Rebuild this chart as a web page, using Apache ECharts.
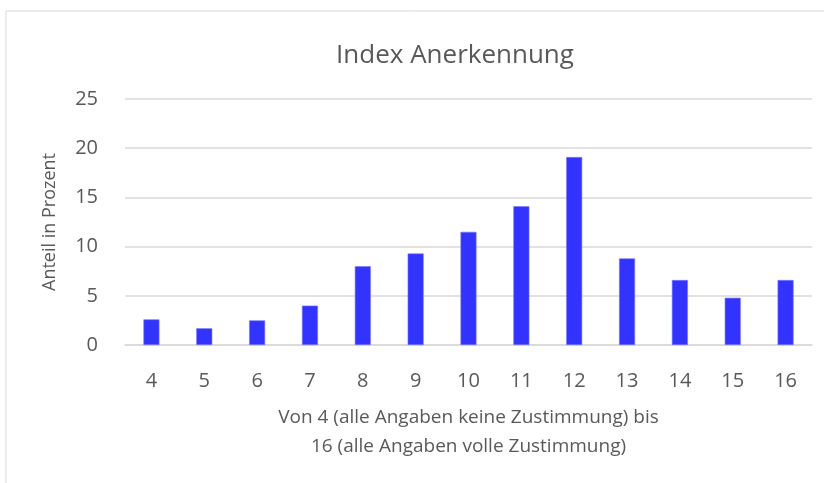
<!DOCTYPE html>
<html>
<head>
<meta charset="utf-8">
<script src="https://cdn.jsdelivr.net/npm/echarts@6/dist/echarts.min.js"></script>
<style>
html,body{margin:0;padding:0;background:#fff;}
#main{width:824px;height:483px;}
</style>
</head>
<body>
<div id="main"></div>
<script>
// Werte
var categories = ['4','5','6','7','8','9','10','11','12','13','14','15','16'];
var anteil = [2.6, 1.7, 2.5, 4.0, 8.0, 9.3, 11.5, 14.1, 19.1, 8.8, 6.6, 4.8, 6.6];
var yTicks = [0, 5, 10, 15, 20, 25];

var chart = echarts.init(document.getElementById('main'));
var txt = '#595959';
var option = {
	backgroundColor: '#fff',
	animation: false,
	title: {
		text: 'Index Anerkennung',
		left: 450,
		textAlign: 'center',
		top: 38,
		textStyle: {
			color: txt,
			fontSize: 26,
			fontWeight: 'normal',
			fontFamily: 'Open Sans'
		}
	},
	graphic: [{
		type: 'rect',
		shape: {x: 6, y: 11, width: 830, height: 490},
		style: {fill: 'none', stroke: '#d9d9d9', lineWidth: 1}
	}],
	grid: {left: 125, right: 12, top: 99, bottom: 138},
	xAxis: {
		type: 'category',
		data: categories,
		axisLine: {lineStyle: {color: '#d9d9d9', width: 1.5}},
		axisTick: {show: false},
		axisLabel: {color: txt, fontSize: 20, margin: 26, fontFamily: 'Open Sans'},
		name: 'Von 4 (alle Angaben keine Zustimmung) bis\n16 (alle Angaben volle Zustimmung)',
		nameLocation: 'middle',
		nameGap: 58,
		nameTextStyle: {color: txt, fontSize: 19, lineHeight: 29, fontFamily: 'Open Sans'}
	},
	yAxis: {
		type: 'value',
		min: yTicks[0],
		max: yTicks[yTicks.length - 1],
		interval: 5,
		axisLine: {show: false},
		axisTick: {show: false},
		splitLine: {lineStyle: {color: '#d9d9d9', width: 1.5}},
		axisLabel: {color: txt, fontSize: 20, margin: 27, fontFamily: 'Open Sans'},
		name: 'Anteil in Prozent',
		nameLocation: 'middle',
		nameGap: 66,
		nameTextStyle: {color: txt, fontSize: 18, fontFamily: 'Open Sans'}
	},
	series: [{
		type: 'bar',
		data: anteil,
		barWidth: 16,
		itemStyle: {color: '#3333ff', borderColor: '#7777ff', borderWidth: 0.6}
	}]
};
chart.setOption(option);
</script>
</body>
</html>
